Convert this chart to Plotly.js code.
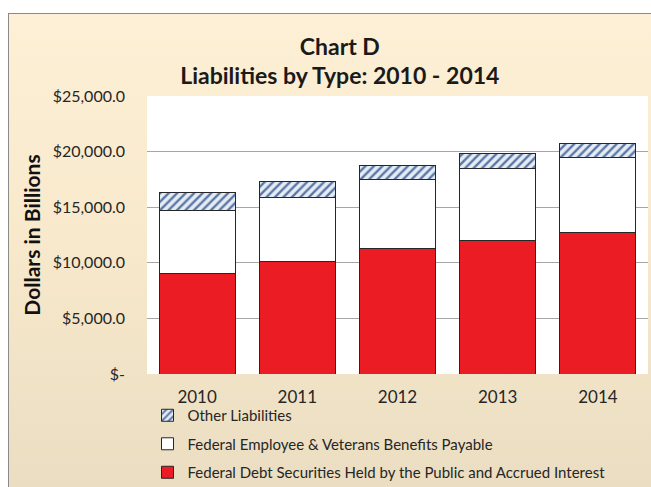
<!DOCTYPE html>
<html>
<head>
<meta charset="utf-8">
<script src="https://cdn.plot.ly/plotly-3.0.1.min.js"></script>
<style>
  html, body { margin: 0; padding: 0; background: #ffffff; width: 651px; height: 487px; overflow: hidden; }
  #frame { position: absolute; left: 8px; top: 13px; width: 680px; height: 500px;
           border: 1px solid #8a8a8a;
           background: linear-gradient(to bottom, #fdf0d6 0%, #f8e9cc 45%, #e9dcc0 100%); }
  #chart { position: absolute; left: 0; top: 0; width: 651px; height: 487px; }
</style>
</head>
<body>
<div id="frame"></div>
<div id="chart"></div>
<script>
const years = ["2010", "2011", "2012", "2013", "2014"];
const debtHeldByPublic = [9000, 10100, 11300, 11970, 12750];
const employeeVeteransBenefits = [5720, 5790, 6180, 6490, 6700];
const otherLiabilities = [1590, 1460, 1280, 1410, 1290];
const yTickVals = [0, 5000, 10000, 15000, 20000, 25000];
const yTickText = ["$-", "$5,000.0", "$10,000.0", "$15,000.0", "$20,000.0", "$25,000.0"];

const fontFam = "Lato, 'Open Sans', sans-serif";
const lineStyle = {color: "#262626", width: 1};

const traces = [
  {
    type: "bar", name: "Federal Debt Securities Held by the Public and Accrued Interest",
    x: years, y: debtHeldByPublic, legendgroup: "a", legendrank: 3,
    marker: {color: "#ec1c24", line: lineStyle}, hoverinfo: "skip"
  },
  {
    type: "bar", name: "Federal Employee & Veterans Benefits Payable",
    x: years, y: employeeVeteransBenefits, legendgroup: "b", legendrank: 2,
    marker: {color: "#ffffff", line: lineStyle}, hoverinfo: "skip"
  },
  {
    type: "bar", name: "Other Liabilities",
    x: years, y: otherLiabilities, legendgroup: "c", legendrank: 1,
    marker: {color: "#e6ecf4", line: lineStyle,
             pattern: {shape: "/", fgcolor: "#5b77a6", bgcolor: "#e6ecf4", size: 6, solidity: 0.4}},
    hoverinfo: "skip"
  }
];

const layout = {
  width: 651, height: 487,
  paper_bgcolor: "rgba(0,0,0,0)",
  plot_bgcolor: "#ffffff",
  margin: {l: 147, r: 3, t: 96, b: 113, autoexpand: false},
  barmode: "stack",
  bargap: 0.243,
  showlegend: true,
  font: {family: fontFam, color: "#262626"},
  title: {
    text: "<b>Chart D</b><br><b>Liabilities by Type: 2010 - 2014</b>",
    font: {family: fontFam, size: 23, color: "#1a1a1a"},
    x: 0.522, xanchor: "center", y: 0.888, yanchor: "middle"
  },
  xaxis: {
    type: "category", showgrid: false, zeroline: false, showline: false,
    automargin: false,
    tickfont: {family: fontFam, size: 17, color: "#262626"},
    ticklabelstandoff: 11, fixedrange: true
  },
  yaxis: {
    range: [0, 25000], tickvals: yTickVals, ticktext: yTickText,
    showgrid: true, gridcolor: "#a6a6a6", gridwidth: 1, zeroline: false,
    showline: false, automargin: false,
    tickfont: {family: fontFam, size: 16, color: "#262626"},
    ticklabelstandoff: 21,
    title: {text: "<b>Dollars in Billions</b>", font: {family: fontFam, size: 21, color: "#111"}, standoff: 6},
    fixedrange: true
  },
  legend: {
    orientation: "v", traceorder: "grouped", tracegroupgap: 6,
    itemwidth: 30,
    x: 0.001, xanchor: "left", y: -0.09, yanchor: "top",
    font: {family: fontFam, size: 15, color: "#262626"},
    bgcolor: "rgba(0,0,0,0)", itemclick: false, itemdoubleclick: false
  }
};

Plotly.newPlot("chart", traces, layout, {displayModeBar: false, staticPlot: true});
</script>
</body>
</html>
